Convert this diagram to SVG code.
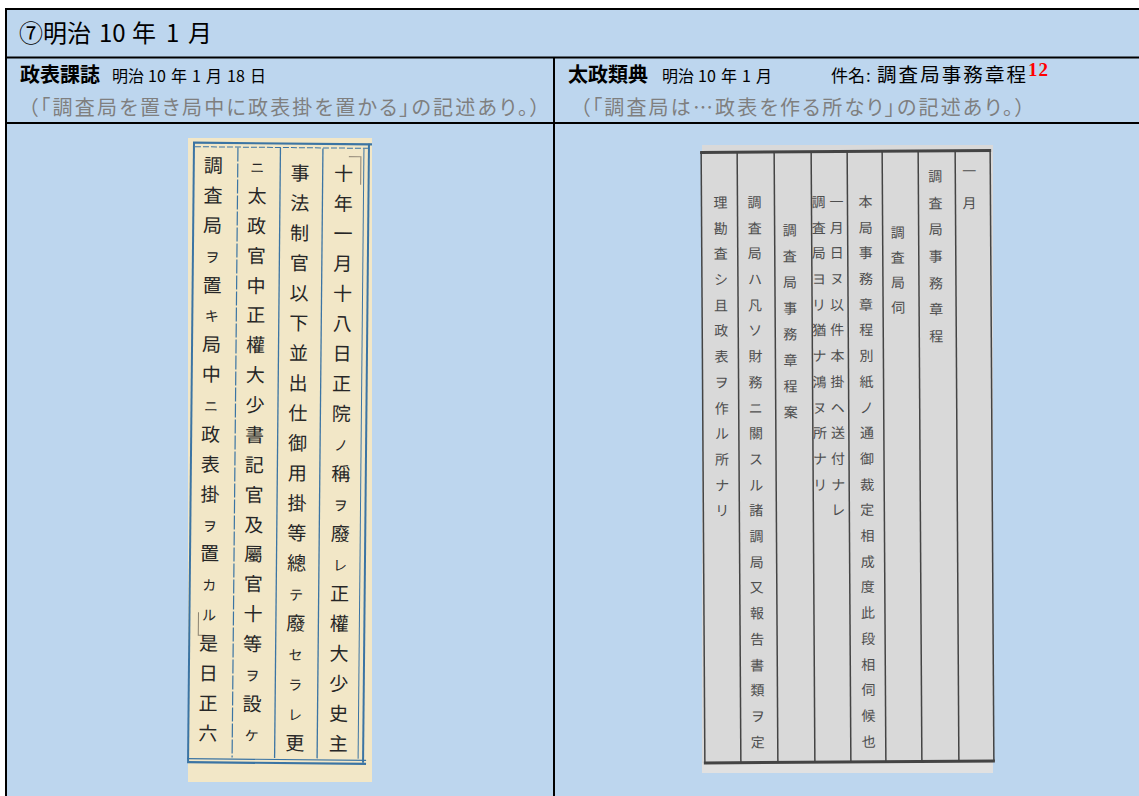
<svg xmlns="http://www.w3.org/2000/svg" width="1139" height="796" viewBox="0 0 1139 796">
<style>
.t{font-family:"Noto Sans CJK JP","Noto Sans",sans-serif;fill:#000}
.b{font-weight:700}
.g{fill:#7f7f7f;font-feature-settings:"palt"}
.grid{stroke:#000;stroke-width:2;fill:none}
.s1{font-family:"Noto Sans CJK JP",sans-serif;font-size:19px;fill:#262626;text-anchor:middle}
.k{font-size:14px}
.bl{stroke:#3b74a3;fill:none}
.s2{font-family:"Noto Sans CJK JP",sans-serif;font-size:14px;fill:#4e4e4e;text-anchor:middle}
.dl{stroke:#444;fill:none}
</style>
<rect x="0" y="0" width="1139" height="796" fill="#fff"/>
<rect x="6" y="9" width="1133" height="787" fill="#BDD6EE"/>

<g id="grid">
<line class="grid" x1="5" y1="9" x2="1139" y2="9"/>
<line class="grid" x1="5" y1="57.5" x2="1139" y2="57.5"/>
<line class="grid" x1="5" y1="123" x2="1139" y2="123"/>
<line class="grid" x1="6" y1="8" x2="6" y2="796"/>
<line class="grid" x1="554" y1="57.5" x2="554" y2="796"/>
</g>

<g id="title">
<text class="t" y="42" font-size="24"><tspan x="19">⑦明治</tspan><tspan x="99">10</tspan><tspan x="132">年</tspan><tspan x="166">1</tspan><tspan x="188">月</tspan></text>
</g>

<g id="left-header">
<text class="t b" x="20" y="82" font-size="20">政表課誌</text>
<text class="t" y="82" font-size="16"><tspan x="112">明治</tspan><tspan x="148">10</tspan><tspan x="171">年</tspan><tspan x="192">1</tspan><tspan x="206">月</tspan><tspan x="227">18</tspan><tspan x="250">日</tspan></text>
<text class="t g" x="28" y="115" font-size="20" textLength="512" lengthAdjust="spacing">（「調査局を置き局中に政表掛を置かる」の記述あり。）</text>
</g>

<g id="right-header">
<text class="t b" x="568" y="82" font-size="20">太政類典</text>
<text class="t" y="82" font-size="16"><tspan x="662">明治</tspan><tspan x="698">10</tspan><tspan x="721">年</tspan><tspan x="742">1</tspan><tspan x="756">月</tspan></text>
<text class="t" x="831" y="82" font-size="17">件名</text>
<text class="t" x="866" y="82" font-size="17">:</text>
<text class="t" x="877" y="82" font-size="19.5" textLength="149" lengthAdjust="spacing">調査局事務章程</text>
<text x="1028" y="76" font-family="Liberation Serif,serif" font-weight="700" font-size="19" fill="#ff0000" textLength="20">12</text>
<text class="t g" x="580" y="115" font-size="20" textLength="445" lengthAdjust="spacing">（「調査局は…政表を作る所なり」の記述あり。）</text>
</g>

<g id="scan-left">
<rect x="188" y="138" width="184" height="644" fill="#F2E7C7"/>
<g transform="rotate(0.55 280 455)">
<line class="bl" x1="190" y1="143.5" x2="369" y2="143.5" stroke-width="2.2"/>
<line class="bl" x1="192" y1="147.5" x2="365" y2="147.5" stroke-width="1" stroke-dasharray="6 2"/>
<line class="bl" x1="191" y1="143" x2="191" y2="762" stroke-width="2"/>
<line class="bl" x1="366" y1="143" x2="366" y2="762" stroke-width="2"/>
<line class="bl" x1="361" y1="148" x2="361" y2="758" stroke-width="1"/>
<line class="bl" x1="235" y1="148" x2="235" y2="758" stroke-width="1.2" stroke-dasharray="14 2"/>
<line class="bl" x1="277.5" y1="148" x2="277.5" y2="758" stroke-width="1.3"/>
<line class="bl" x1="320" y1="148" x2="320" y2="758" stroke-width="1.3"/>
<line class="bl" x1="190" y1="759.5" x2="369" y2="759.5" stroke-width="1.2"/>
<line class="bl" x1="190" y1="763" x2="369" y2="763" stroke-width="2.2"/>
<polyline points="346,156 358,156 358,184" stroke="#9c9280" stroke-width="1.2" fill="none"/>
<polyline points="200,613 200,636 207,636" stroke="#8a8270" stroke-width="1" fill="none"/>
<text class="s1" x="341 341 341 341 341 341 341 341 341 341 341 341 341 341 341 341 341 341 341 341" y="180 210 240 270 300 330 360 390 420 450 480 510 540 570 600 630 660 690 720 750">十年一月十八日正院<tspan class="k">ノ</tspan>稱<tspan class="k">ヲ</tspan>廢<tspan class="k">レ</tspan>正權大少史主</text>
<text class="s1" x="297.5 297.5 297.5 297.5 297.5 297.5 297.5 297.5 297.5 297.5 297.5 297.5 297.5 297.5 297.5 297.5 297.5 297.5 297.5 297.5" y="180 210 240 270 300 330 360 390 420 450 480 510 540 570 600 630 660 690 720 750">事法制官以下並出仕御用掛等總<tspan class="k">テ</tspan>廢<tspan class="k">セラレ</tspan>更</text>
<text class="s1" x="254.5 254.5 254.5 254.5 254.5 254.5 254.5 254.5 254.5 254.5 254.5 254.5 254.5 254.5 254.5 254.5 254.5 254.5 254.5 254.5" y="173 203 233 263 293 322 352 382 412 442 472 502 532 561 591 621 651 681 711 741"><tspan class="k">ニ</tspan>太政官中正權大少書記官及屬官十等<tspan class="k">ヲ</tspan>設<tspan class="k">ケ</tspan></text>
<text class="s1" x="210.5 210.5 210.5 210.5 210.5 210.5 210.5 210.5 210.5 210.5 210.5 210.5 210.5 210.5 210.5 210.5 210.5 210.5 210.5 210.5" y="173 203 233 263 293 322 352 382 412 442 472 502 532 561 591 621 651 681 711 741">調査局<tspan class="k">ヲ</tspan>置<tspan class="k">キ</tspan>局中<tspan class="k">ニ</tspan>政表掛<tspan class="k">ヲ</tspan>置<tspan class="k">カル</tspan>是日正六</text>
</g>
</g>

<g id="scan-right">
<rect x="702" y="145" width="291" height="628" fill="#D9D9D9"/>
<rect x="702" y="763" width="291" height="10" fill="#E1E1E1"/>
<g transform="rotate(-0.35 848 455)">
<line class="dl" x1="702" y1="151.5" x2="993" y2="151.5" stroke-width="3"/>
<line class="dl" x1="702" y1="762" x2="993" y2="762" stroke-width="3"/>
<line class="dl" x1="703" y1="151" x2="703" y2="762" stroke-width="1.5"/>
<line class="dl" x1="739" y1="151" x2="739" y2="762" stroke-width="1.5"/>
<line class="dl" x1="776" y1="151" x2="776" y2="762" stroke-width="1.5"/>
<line class="dl" x1="813" y1="151" x2="813" y2="762" stroke-width="1.5"/>
<line class="dl" x1="849" y1="151" x2="849" y2="762" stroke-width="1.5"/>
<line class="dl" x1="884" y1="151" x2="884" y2="762" stroke-width="1.5"/>
<line class="dl" x1="920" y1="151" x2="920" y2="762" stroke-width="1.5"/>
<line class="dl" x1="957" y1="151" x2="957" y2="762" stroke-width="1.5"/>
<line class="dl" x1="992" y1="151" x2="992" y2="762" stroke-width="1.5"/>
<text class="s2" x="971 971" y="177 209" font-size="20" fill="#333">一月</text>
<text class="s2" x="937 937 937 937 937 937 937" y="182 209 235 262 289 315 342" font-size="19" fill="#3a3a3a">調査局事務章程</text>
<text class="s2" x="899 899 899 899" y="238 263 288 313">調査局伺</text>
<text class="s2" x="867 867 867 867 867 867 867 867 867 867 867 867 867 867 867 867 867 867 867 867 867 867" y="207 233 258 284 310 335 361 387 413 438 464 490 515 541 567 592 618 644 670 695 721 747">本局事務章程別紙ノ通御裁定相成度此段相伺候也</text>
<text class="s2" x="838 838 838 838 838 838 838 838 838 838 838 838 838" y="207 233 258 284 310 335 361 387 413 438 464 490 515" font-size="12">一月日ヌ以件本掛ヘ送付ナレ</text>
<text class="s2" x="820 820 820 820 820 820 820 820 820 820 820 820" y="207 233 258 284 310 335 361 387 413 438 464 490" font-size="12">調査局ヨリ猶ナ鴻ヌ所ナリ</text>
<text class="s2" x="791 791 791 791 791 791 791 791" y="235 261 287 313 339 365 391 417">調査局事務章程案</text>
<text class="s2" x="756 756 756 756 756 756 756 756 756 756 756 756 756 756 756 756 756 756 756 756 756 756" y="207 233 258 284 310 335 361 387 413 438 464 490 515 541 567 592 618 644 670 695 721 747">調査局ハ凡ソ財務ニ關スル諸調局又報告書類ヲ定</text>
<text class="s2" x="722 722 722 722 722 722 722 722 722 722 722 722 722" y="207 233 258 284 310 335 361 387 413 438 464 490 515">理勘査シ且政表ヲ作ル所ナリ</text>
</g>
</g>
</svg>
